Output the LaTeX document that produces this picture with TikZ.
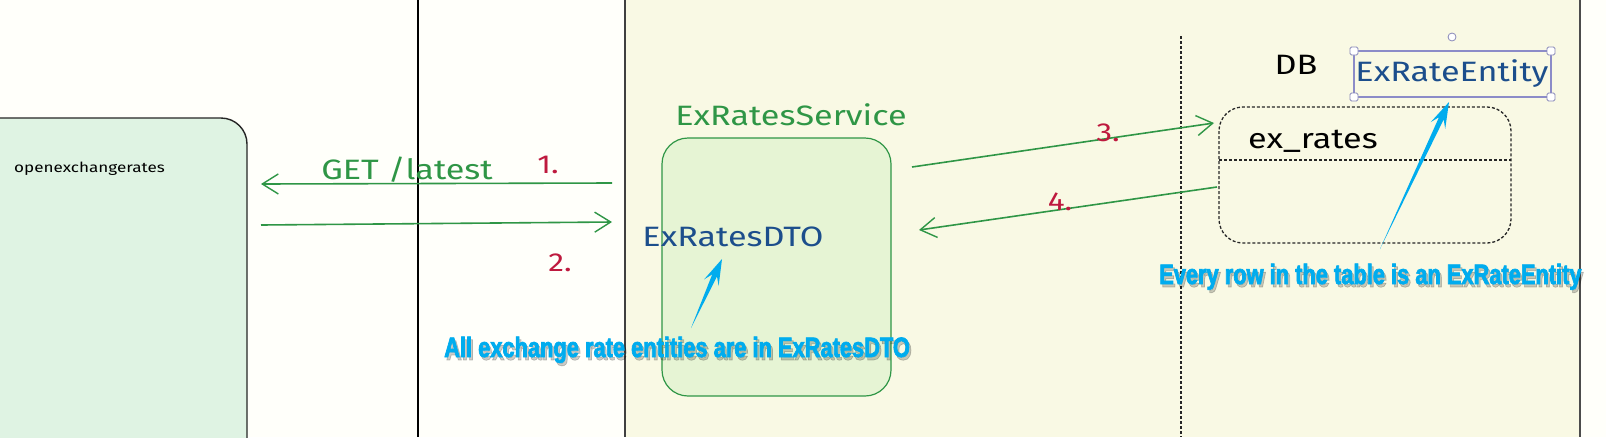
\documentclass[tikz,border=0pt]{standalone}
\usepackage{fontspec}
\setmainfont{Fira Sans}
\newfontfamily\handfont[FakeStretch=1.22]{Fira Sans}
\newfontfamily\calloutfont[FakeStretch=0.78,FakeBold=2.5]{Liberation Sans}
\usetikzlibrary{arrows.meta,calc}
\definecolor{sketchgreen}{RGB}{47,150,70}
\definecolor{sketchred}{RGB}{190,25,62}
\definecolor{sketchblue}{RGB}{28,78,140}
\definecolor{calloutblue}{RGB}{0,172,238}
\definecolor{paperyellow}{RGB}{249,249,228}
\definecolor{boxmint}{RGB}{223,243,227}
\definecolor{boxlime}{RGB}{230,244,212}
\definecolor{selectpurple}{RGB}{140,140,200}

% tapered callout arrow: tail -> tip
\newcommand{\calloutarrow}[2]{%
  \coordinate (hb) at ($(#2)!18pt!(#1)$);
  \coordinate (hw) at ($(#2)!26pt!(#1)$);
  \fill[calloutblue] (#1) -- ($(hb)!2.6pt!90:(#2)$) -- ($(hw)!8pt!90:(#2)$)
    -- (#2) -- ($(hw)!8pt!-90:(#2)$) -- ($(hb)!2.6pt!-90:(#2)$) -- cycle;}

\begin{document}
\begin{tikzpicture}[x=1pt, y=-1pt,
  flow/.style={sketchgreen, line width=1.6pt,
    -{Straight Barb[length=16pt,width=20pt,line width=1.4pt]}},
  hand/.style={inner sep=0pt, font=\handfont\fontsize{28}{32}\selectfont},
  numlabel/.style={sketchred, inner sep=0pt, font=\handfont\fontsize{26}{30}\selectfont},
  callout/.style={calloutblue, inner sep=0pt, anchor=base west,
    font=\calloutfont\bfseries\fontsize{28}{32}\selectfont},
  calloutshadow/.style={callout, black, opacity=0.2},
  handle/.style={draw=selectpurple!80!gray, fill=white, line width=0.8pt,
    rounded corners=1.5pt, minimum size=8pt, inner sep=0pt}]

  \useasboundingbox (0,0) rectangle (1606,437);
  \clip (0,0) rectangle (1606,437);

  % Paper
  \fill[white!98!yellow] (0,0) rectangle (1606,437);
  \fill[paperyellow] (625,0) rectangle (1580,437);

  % Frame lines
  \draw[line width=1.5pt] (418,0) -- (418,437);
  \draw[line width=2pt, black!75] (625,0) -- (625,437);
  \draw[line width=2pt, black!70] (1580,0) -- (1580,437);
  \draw[line width=1.3pt, densely dashed, black!85] (1181,36) -- (1181,437);

  % openexchangerates box
  \draw[fill=boxmint, draw=black!85, line width=1.4pt, rounded corners=26pt]
    (-40,460) -- (-40,118) -- (247,118) -- (247,460);
  \node[inner sep=0pt, anchor=west, font=\handfont\fontsize{14}{17}\selectfont] (oxr)
    at (14,169) {openexchangerates};

  % ExRatesService box
  \node[hand, sketchgreen] (svctitle) at (791,115) {ExRatesService};
  \draw[fill=boxlime, draw=sketchgreen, line width=1.2pt, rounded corners=26pt]
    (662,138) rectangle (891,396);
  \node[hand, sketchblue] (dto) at (733,237) {ExRatesDTO};

  % GET /latest request and response
  \coordinate (reqstart) at (612,183);
  \coordinate (reqend) at (261,184);
  \coordinate (resstart) at (261,225);
  \coordinate (resend) at (612,222);
  \draw[flow] (reqstart) -- (reqend);
  \draw[flow] (resstart) -- (resend);
  \node[hand, sketchgreen, anchor=base] (get) at (407,179) {GET /latest};
  \node[numlabel] (one) at (548,165) {1.};
  \node[numlabel] (two) at (560,263) {2.};

  % DB table
  \node[hand, black] (db) at (1296,65) {DB};
  \draw[line width=1.3pt, densely dashed, black!85, rounded corners=24pt]
    (1219,107) rectangle (1511,243);
  \draw[line width=1.3pt, densely dashed, black!85] (1219,160) -- (1511,160);
  \node[hand, black] (exrates) at (1313,141) {ex\_rates};

  % Query and result
  \coordinate (qstart) at (912,167);
  \coordinate (qend) at (1214,123);
  \coordinate (rstart) at (1217,187);
  \coordinate (rend) at (919,230);
  \draw[flow] (qstart) -- (qend);
  \draw[flow] (rstart) -- (rend);
  \node[numlabel] (three) at (1108,133) {3.};
  \node[numlabel] (four) at (1060,202) {4.};

  % Selected ExRateEntity label
  \node[hand, sketchblue] (entity) at (1452,74) {ExRateEntity};
  \draw[selectpurple, line width=1.5pt] (1354,51) rectangle (1551,97);
  \foreach \hx/\hy in {1354/51, 1551/51, 1354/97, 1551/97}
    \node[handle] at (\hx,\hy) {};
  \draw[selectpurple!80!gray, fill=white, line width=0.8pt] (1452,37) circle (4pt);

  % Callouts
  \coordinate (dtotail) at (691,328);
  \coordinate (dtotip) at (722,259);
  \calloutarrow{dtotail}{dtotip}
  \node[calloutshadow] at (446,360) {All exchange rate entities are in ExRatesDTO};
  \node[callout] (dtonote) at (444,357) {All exchange rate entities are in ExRatesDTO};

  \coordinate (rowtail) at (1380,249);
  \coordinate (rowtip) at (1449,102);
  \calloutarrow{rowtail}{rowtip}
  \node[calloutshadow] at (1161,287) {Every row in the table is an ExRateEntity};
  \node[callout] (rownote) at (1159,284) {Every row in the table is an ExRateEntity};

\end{tikzpicture}
\end{document}
